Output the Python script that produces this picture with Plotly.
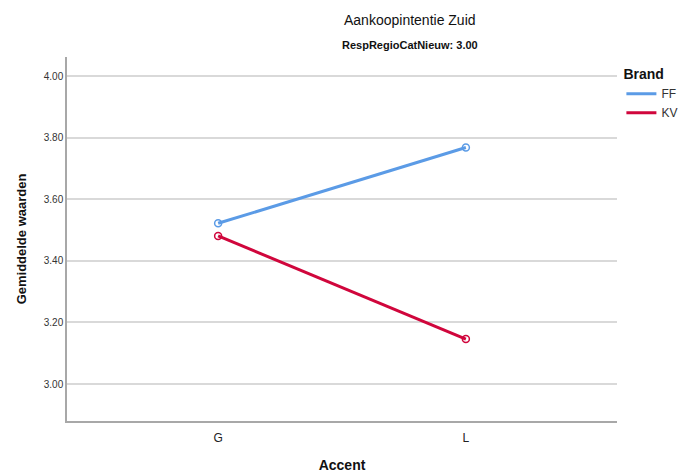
import plotly.graph_objects as go

categories = ["G", "L"]
ff_values = [3.522, 3.768]
kv_values = [3.481, 3.146]
series_names = ["FF", "KV"]
y_ticks = [3.0, 3.2, 3.4, 3.6, 3.8, 4.0]
y_tick_labels = ["3.00", "3.20", "3.40", "3.60", "3.80", "4.00"]

FONT = "Liberation Sans, Arial, sans-serif"
colors = ["#5B9BE6", "#D0063C"]

# page body adds an 8px offset; compensate in margins
L, T, PW, PH = 59, 49, 550, 364

fig = go.Figure()
for name, vals, col in zip(series_names, [ff_values, kv_values], colors):
    fig.add_trace(go.Scatter(
        x=categories, y=vals, name=name, mode="lines+markers",
        line=dict(color=col, width=3), showlegend=False,
        marker=dict(symbol="circle-open", size=7, color=col, line=dict(width=1.5)),
    ))
    fig.add_trace(go.Scatter(
        x=[None], y=[None], name=name, mode="lines",
        line=dict(color=col, width=3), showlegend=True, hoverinfo="skip",
    ))

fig.update_layout(
    width=686, height=475,
    margin=dict(l=L, r=686 - L - PW, t=T, b=475 - T - PH, autoexpand=False),
    plot_bgcolor="white", paper_bgcolor="white",
    font=dict(family=FONT, color="#222"),
    showlegend=True,
    legend=dict(
        title=dict(text="<b>Brand</b>", font=dict(size=14, family=FONT, color="#111")),
        x=1.008, xanchor="left", y=1 - 4 / PH, yanchor="top",
        font=dict(size=12, color="#333"),
        itemwidth=30, tracegroupgap=0,
        bgcolor="rgba(0,0,0,0)",
    ),
    xaxis=dict(
        type="category", range=[-0.61, 1.61], automargin=False,
        showline=True, linecolor="#A8A8A8", linewidth=1.5,
        showgrid=False, ticks="", tickfont=dict(size=12, color="#222"),
        ticklabelstandoff=5,
        title=dict(text="<b>Accent</b>", font=dict(size=14, color="#111"), standoff=16),
        zeroline=False,
    ),
    yaxis=dict(
        range=[2.880, 4.062], automargin=False,
        tickvals=y_ticks, ticktext=y_tick_labels,
        showline=True, linecolor="#A8A8A8", linewidth=1.5,
        showgrid=True, gridcolor="#D9D9D9", gridwidth=1.5,
        ticks="", tickfont=dict(size=10, color="#333"),
        title=dict(text="<b>Gemiddelde waarden</b>", font=dict(size=13, color="#111"), standoff=14),
        zeroline=False,
    ),
    annotations=[
        dict(text="Aankoopintentie Zuid", xref="paper", yref="paper",
             x=(410 - 67) / PW, y=1 + (57 - 20) / PH, xanchor="center", yanchor="middle",
             showarrow=False, font=dict(size=14, color="#111", family=FONT)),
        dict(text="<b>RespRegioCatNieuw: 3.00</b>", xref="paper", yref="paper",
             x=(410 - 67) / PW, y=1 + (57 - 45) / PH, xanchor="center", yanchor="middle",
             showarrow=False, font=dict(size=11, color="#111", family=FONT)),
    ],
)

fig.write_html("out.html")
